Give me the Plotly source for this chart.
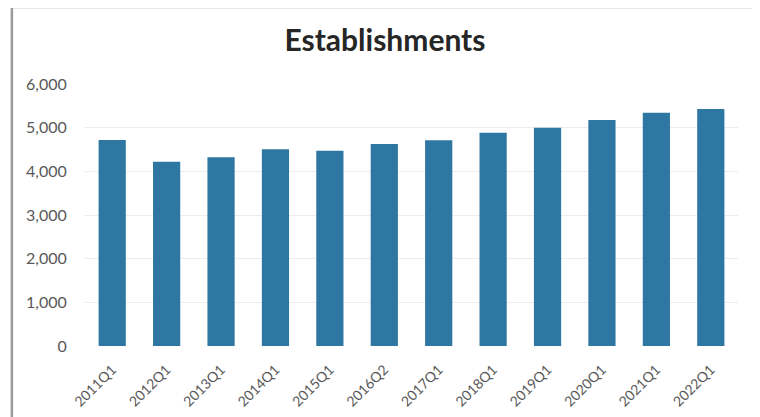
import plotly.graph_objects as go

categories = ["2011Q1", "2012Q1", "2013Q1", "2014Q1", "2015Q1", "2016Q2",
              "2017Q1", "2018Q1", "2019Q1", "2020Q1", "2021Q1", "2022Q1"]
establishments = [4717, 4220, 4321, 4504, 4472, 4626, 4710, 4884, 4999, 5175, 5342, 5427]
y_ticks = [0, 1000, 2000, 3000, 4000, 5000, 6000]
y_labels = ["0", "1,000", "2,000", "3,000", "4,000", "5,000", "6,000"]

fig = go.Figure(go.Bar(
    x=categories, y=establishments,
    marker=dict(color="#2f77a3", line=dict(width=0)),
))

fig.update_layout(
    width=760, height=417,
    paper_bgcolor="white", plot_bgcolor="white",
    margin=dict(l=77, r=30, t=76, b=79, autoexpand=False),
    title=dict(text="<b>Establishments</b>", x=0.496, xanchor="center", y=0.921, yanchor="middle",
               font=dict(family="Lato, Open Sans, sans-serif", size=30, color="#262626")),
    bargap=0.5,
    showlegend=False,
    font=dict(family="Lato, Open Sans, sans-serif", color="#595959", size=14),
    shapes=[dict(type="rect", xref="paper", yref="paper", x0=-0.112, x1=1.027, y0=-0.35, y1=1.294,
                 line=dict(color="#9a9a9a", width=2.5), fillcolor="rgba(0,0,0,0)")],
)
fig.update_xaxes(tickangle=-45, showline=False, ticks="outside", ticklen=9, tickcolor="white",
                 showgrid=False, automargin=False,
                 tickfont=dict(size=14, color="#595959"))
fig.update_yaxes(range=[0, 6000], tickvals=y_ticks, ticktext=y_labels,
                 showgrid=True, gridcolor="#ececec", gridwidth=1, zeroline=False, automargin=False,
                 ticks="outside", ticklen=14, tickcolor="white",
                 tickfont=dict(size=16, color="#595959"))

fig.write_html("out.html")
